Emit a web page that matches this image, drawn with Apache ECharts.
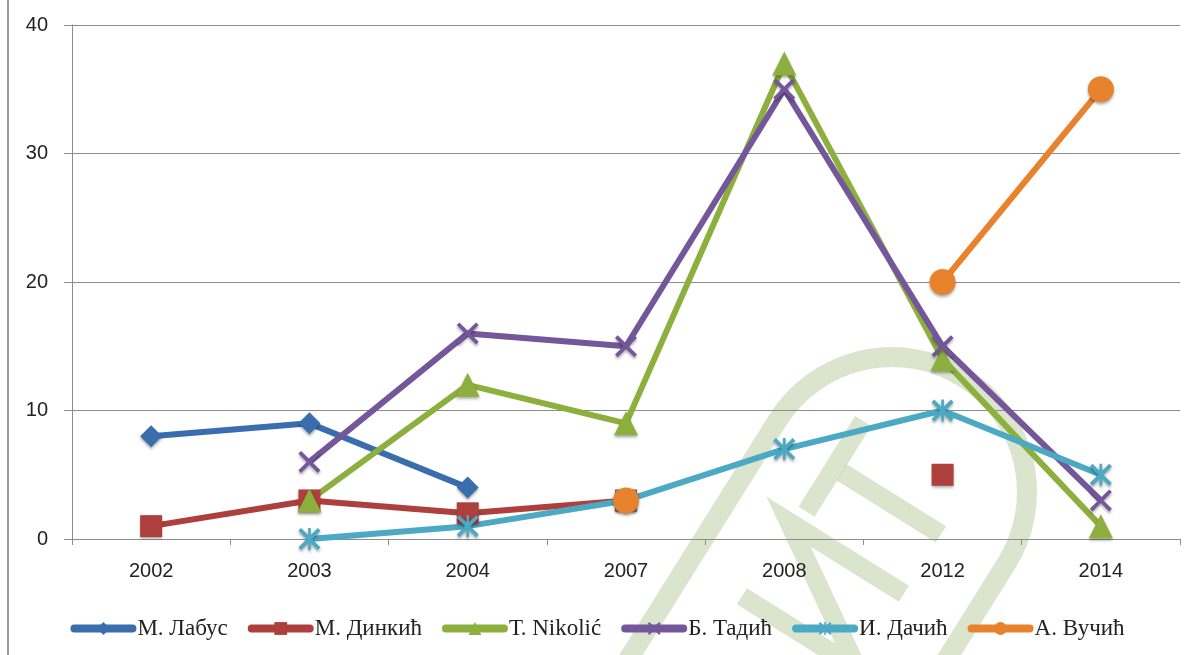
<!DOCTYPE html>
<html>
<head>
<meta charset="utf-8">
<script src="https://cdn.jsdelivr.net/npm/echarts@6/dist/echarts.min.js"></script>
<style>
  html, body { margin: 0; padding: 0; background: #fff; }
  #chart { width: 1195px; height: 655px; }
</style>
</head>
<body>
<div id="chart"></div>
<script>
  // categories and values
  var years = ['2002', '2003', '2004', '2007', '2008', '2012', '2014'];
  var labus   = [8, 9, 4, null, null, null, null];
  var dinkic  = [1, 3, 2, 3, null, 5, null];
  var nikolic = [null, 3, 12, 9, 37, 14, 1];
  var tadic   = [null, 6, 16, 15, 35, 15, 3];
  var dacic   = [null, 0, 1, 3, 7, 10, 5];
  var vucic   = [null, null, null, 3, null, 20, 35];
  var names = ['М. Лабус', 'М. Динкић', 'Т. Nikolić', 'Б. Тадић', 'И. Дачић', 'А. Вучић'];

  var xPath = 'path://M0,1.2L1.2,0L5,3.8L8.8,0L10,1.2L6.2,5L10,8.8L8.8,10L5,6.2L1.2,10L0,8.8L3.8,5Z';
  var starPath = 'path://M0,1.2L1.2,0L5,3.8L8.8,0L10,1.2L6.2,5L10,8.8L8.8,10L5,6.2L1.2,10L0,8.8L3.8,5Z M4.4,0L5.6,0L5.6,10L4.4,10Z';

  var chart = echarts.init(document.getElementById('chart'));

  function mk(name, data, color, symbol, size) {
    return {
      name: name,
      type: 'line',
      data: data,
      symbol: symbol,
      symbolSize: size,
      showSymbol: true,
      connectNulls: false,
      lineStyle: { width: 6, color: color },
      itemStyle: { color: color, shadowBlur: 3, shadowColor: 'rgba(0,0,0,0.35)', shadowOffsetY: 2 },
      emphasis: { disabled: true }
    };
  }

  // watermark stamp (semi transparent, drawn over the plot)
  var wm = 'rgba(110,150,60,0.25)';
  var stamp = {
    type: 'group',
    x: 892, y: 492,
    rotation: -32 * Math.PI / 180,
    z: 100,
    silent: true,
    children: [
      { type: 'rect', shape: { x: -135, y: -135, width: 270, height: 900, r: 135 },
        style: { fill: 'none', stroke: wm, lineWidth: 20 } },
      { type: 'polyline', shape: { points: [[-62, -45], [-62, 62]] }, style: { fill: 'none', stroke: wm, lineWidth: 19 } },
      { type: 'polyline', shape: { points: [[-53, 10], [64, 10]] }, style: { fill: 'none', stroke: wm, lineWidth: 19 } },
      { type: 'polyline', shape: { points: [[64, 80], [-72, 80], [64, 168], [-72, 168]] },
        style: { fill: 'none', stroke: wm, lineWidth: 19, lineJoin: 'miter' } }
    ]
  };

  var serif = 'Liberation Serif';
  var sans = 'Liberation Sans';

  chart.setOption({
    animation: false,
    color: ['#3A6DAD', '#AD3F3C', '#8CAF3E', '#74569A', '#4BA9C4', '#E8822C'],
    grid: { left: 72, right: 15, top: 25, bottom: 116 },
    graphic: [{
      type: 'rect',
      shape: { x: 7, y: 0, width: 2, height: 655 },
      style: { fill: '#9a9a9a' }
    }, stamp],
    legend: {
      bottom: 10,
      left: 'center',
      itemWidth: 58,
      itemHeight: 16,
      itemGap: 20,
      lineStyle: { width: 8, cap: 'round' },
      textStyle: { fontFamily: serif, fontSize: 23, color: '#222' },
      data: names
    },
    xAxis: {
      type: 'category',
      data: years,
      boundaryGap: true,
      axisLine: { lineStyle: { color: '#8c8c8c', width: 1 } },
      axisTick: { show: true, length: 6, lineStyle: { color: '#8c8c8c' } },
      axisLabel: { fontFamily: sans, fontSize: 20, color: '#222', margin: 22 }
    },
    yAxis: {
      type: 'value',
      min: 0,
      max: 40,
      interval: 10,
      axisLine: { show: true, lineStyle: { color: '#8c8c8c' } },
      axisTick: { show: true, length: 8, lineStyle: { color: '#8c8c8c' } },
      splitLine: { lineStyle: { color: '#8c8c8c' } },
      axisLabel: { fontFamily: sans, fontSize: 20, color: '#222', margin: 24 }
    },
    series: [
      mk(names[0], labus, '#3A6DAD', 'diamond', 22),
      mk(names[1], dinkic, '#AD3F3C', 'rect', 22),
      mk(names[2], nikolic, '#8CAF3E', 'triangle', 24),
      mk(names[3], tadic, '#74569A', xPath, 22),
      mk(names[4], dacic, '#4BA9C4', starPath, 22),
      mk(names[5], vucic, '#E8822C', 'circle', 26)
    ]
  });
</script>
</body>
</html>
